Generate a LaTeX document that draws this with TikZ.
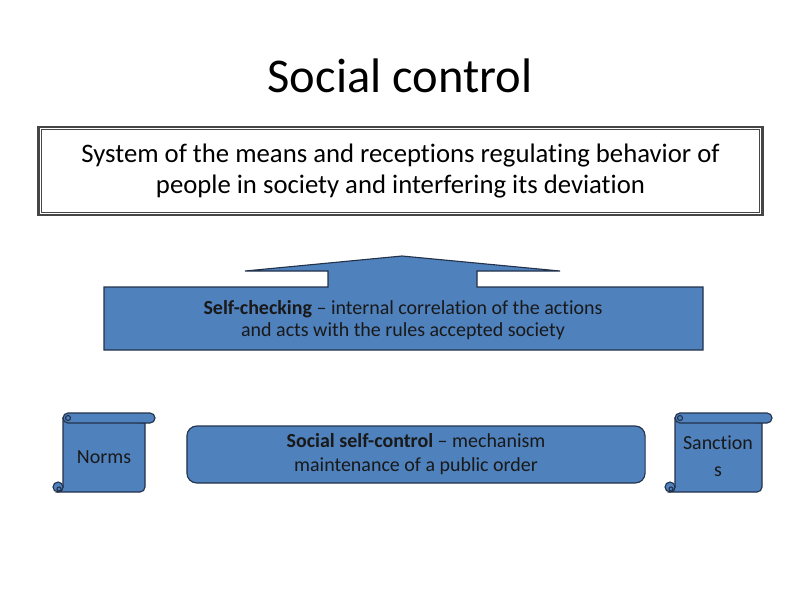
\documentclass[tikz,border=0pt]{standalone}
\usepackage{fontspec}
\setmainfont{Carlito}[Ligatures=NoCommon]
\usetikzlibrary{positioning,calc}
\definecolor{scBlue} {RGB}{79, 129, 189}
\definecolor{scEdge} {RGB}{35,  50,  75}
\definecolor{scFrame}{RGB}{70,  70,  70}

\begin{document}
\begin{tikzpicture}[x=0.025cm,y=-0.025cm,
    bluebox/.style={fill=scBlue,draw=scEdge,line width=0.8pt},
    txt/.style={font=\fontsize{14.2}{16}\selectfont,align=center,text=black!90}]
  \useasboundingbox (0,0) rectangle (800,600);
  % Titulo
  \node[font=\fontsize{34.5}{40}\selectfont,anchor=base] (title) at (400,92)
    {Social control};
  % Definicao
  \node[draw=scFrame,line width=1.6pt,minimum width=18.1cm,minimum height=2.2cm,
        align=center,font=\fontsize{19}{21.5}\selectfont] (def) at (400.5,171)
    {System of the means and receptions regulating behavior of\\
     people in society and interfering its deviation};
  \draw[scFrame,line width=0.8pt]
    ([shift={(4,4)}]def.north west) rectangle ([shift={(-4,-4)}]def.south east);
  % Seta
  \filldraw[bluebox] (104,287) -- (328,287) -- (328,271) -- (245,271)
    -- (402,256) -- (560,271) -- (477,271) -- (477,287)
    -- (703,287) -- (703,350) -- (104,350) -- cycle;
  \node[txt] (check) at (403,320)
    {\textbf{Self-checking} – internal correlation of the actions\\
     and acts with the rules accepted society};
  % Autocontrole
  \node[bluebox,rounded corners=7pt,minimum width=11.45cm,minimum height=1.425cm,
        txt,font=\fontsize{14.2}{17}\selectfont] (social) at (416,454.5)
    {\textbf{Social self-control} – mechanism\\
     maintenance of a public order};
  % Rolos
  \foreach \L/\R in {63/145, 675/762}{
    \filldraw[bluebox] (\L,418) -- (\L,487) arc[start angle=0,end angle=90,radius=5]
      -- ({\R-5},492) arc[start angle=90,end angle=0,radius=5] -- (\R,423) -- cycle;
    \filldraw[bluebox,rounded corners=3.5pt] (\L,413) rectangle ({\R+10},423);
    \filldraw[bluebox] ({\L-5},487) circle (5);
    \draw[scEdge,line width=0.8pt] ({\L+5},418) circle (2.5);
    \draw[scEdge,line width=0.8pt] ({\L-4},489) circle (2);
  }
  \node[txt] (norms) at (104,457) {Norms};
  \node[txt,font=\fontsize{14.2}{19}\selectfont] (sanctions) at (718,456)
    {Sanction\\s};
\end{tikzpicture}
\end{document}
